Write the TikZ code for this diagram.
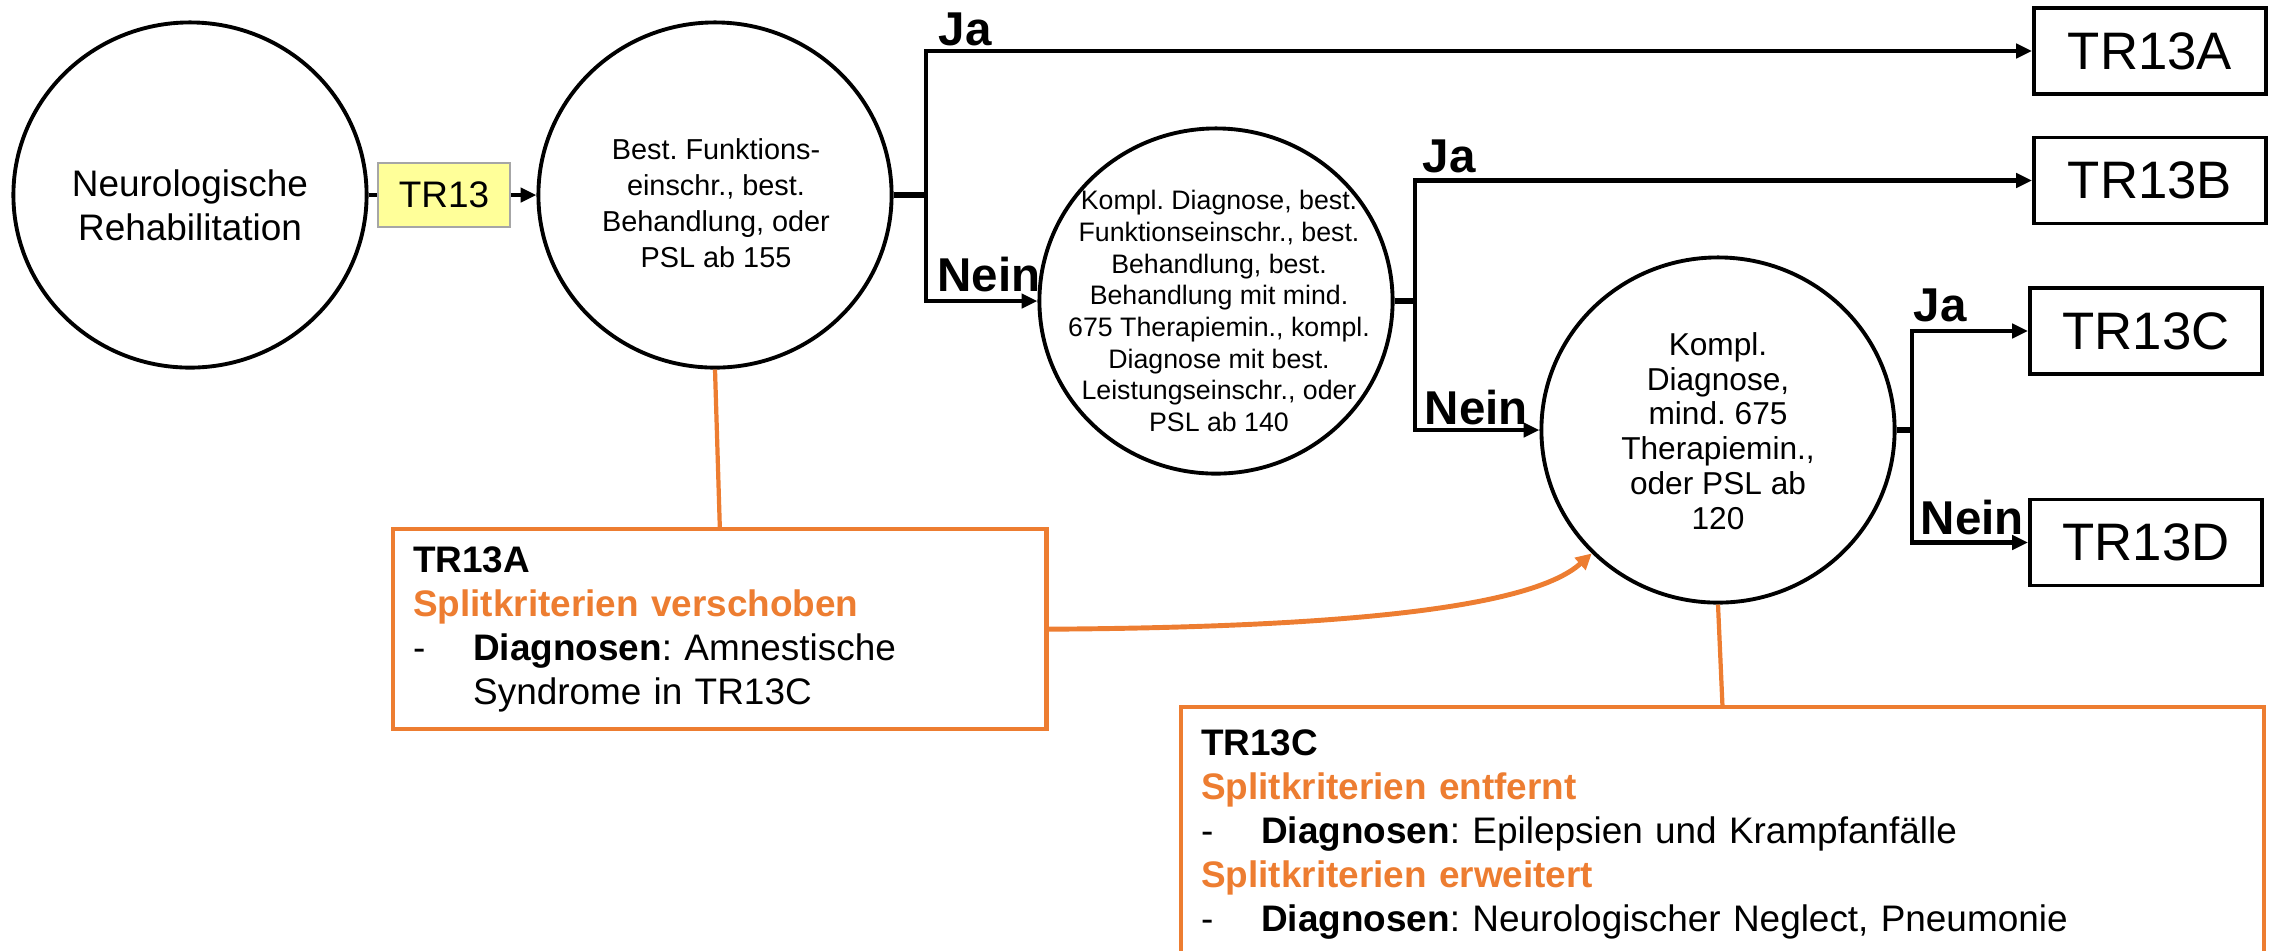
\documentclass[tikz,border=0pt]{standalone}
\usepackage{fontspec}
\setmainfont{Liberation Sans}
\usepackage{tikz}
\usetikzlibrary{shapes.geometric, arrows.meta, positioning}

\definecolor{splitorange}{HTML}{ED7D31}
\definecolor{drgyellow}{HTML}{FFFF99}
\definecolor{drggray}{HTML}{A6A6A6}
\frenchspacing

\begin{document}
\begin{tikzpicture}[
  x=0.01cm, y=-0.01cm,
  every node/.style={font=\fontsize{10.5}{12.5}\selectfont},
  decide/.style={
    ellipse, draw=black, line width=1.1pt,
    minimum width=3.53cm, minimum height=3.45cm, inner sep=0pt},
  qtext/.style={align=center, inner sep=0pt},
  endbox/.style={
    rectangle, draw=black, line width=1.1pt,
    minimum width=2.32cm, minimum height=0.86cm,
    font=\fontsize{15}{18}\selectfont},
  drgbox/.style={
    rectangle, draw=drggray, fill=drgyellow, line width=0.6pt,
    minimum width=1.32cm, minimum height=0.64cm, inner sep=0pt},
  notebox/.style={
    rectangle, draw=splitorange, line width=1.2pt,
    anchor=north west, align=left, inner xsep=0.2cm, inner ysep=0pt},
  answer/.style={
    font=\fontsize{13.5}{16}\selectfont\bfseries,
    anchor=base west, inner sep=0pt},
  arr/.style={-{Triangle[length=4.5pt,width=4pt]}, line width=1.2pt},
  link/.style={line width=1.2pt},
  stub/.style={line width=1.8pt},
  noteline/.style={draw=splitorange, line width=1.2pt},
  notearr/.style={-{Triangle[length=4.5pt,width=4.5pt]}, draw=splitorange, line width=1.4pt},
]
\useasboundingbox (0,0) rectangle (2270,950);

% decision ellipses
\node[decide] (q1) at (190,195) {};
\node[qtext] (q1t) at (190,205) {Neurologische\\Rehabilitation};

\node[decide] (q2) at (715,195) {};
\node[qtext, font=\fontsize{8.2}{10.2}\selectfont] (q2t) at (716,203)
  {Best. Funktions-\\einschr., best.\\Behandlung, oder\\PSL ab 155};

\node[decide] (q3) at (1216,301) {};
\node[qtext, font=\fontsize{7.6}{9}\selectfont] (q3t) at (1219,311)
  {Kompl. Diagnose, best.\\Funktionseinschr., best.\\Behandlung, best.\\Behandlung mit mind.\\675 Therapiemin., kompl.\\Diagnose mit best.\\Leistungseinschr., oder\\PSL ab 140};

\node[decide] (q4) at (1718,430) {};
\node[qtext, font=\fontsize{9}{9.9}\selectfont] (q4t) at (1718,431)
  {Kompl.\\Diagnose,\\mind. 675\\Therapiemin.,\\oder PSL ab\\120};

\node[drgbox] (drg) at (444,195) {TR13};

% result boxes
\node[endbox] (tr13a) at (2150,51) {TR13A};
\node[endbox] (tr13b) at (2150,180.5) {TR13B};
\node[endbox] (tr13c) at (2146,331) {TR13C};
\node[endbox] (tr13d) at (2146,542.5) {TR13D};

\coordinate (b1) at (926,195);
\coordinate (b2) at (1415,301);
\coordinate (b3) at (1912,430);

\draw[link] (q1) -- (drg);
\draw[arr] (drg) -- (q2);

\draw[stub] (q2.east) -- (b1);
\draw[arr] (b1) |- (tr13a);
\draw[arr] (b1) |- (q3);
\node[answer] (ja1) at (938,45) {Ja};
\node[answer] (nein1) at (937,291) {Nein};

\draw[stub] (q3.east) -- (b2);
\draw[arr] (b2) |- (tr13b);
\draw[arr] (b2) |- (q4);
\node[answer] (ja2) at (1422,172) {Ja};
\node[answer] (nein2) at (1424,424) {Nein};

\draw[stub] (q4.east) -- (b3);
\draw[arr] (b3) |- (tr13c);
\draw[arr] (b3) |- (tr13d);
\node[answer] (ja3) at (1913,321) {Ja};
\node[answer] (nein3) at (1920,534) {Nein};

% change notes
\node[notebox, text width=6.13cm, minimum height=2cm] (notea) at (391,527)
  {\textbf{TR13A}\\
   {\color{splitorange}\textbf{Splitkriterien verschoben}}\\
   \makebox[0.6cm][l]{-}\textbf{Diagnosen}: Amnestische\\
   \hspace*{0.6cm}Syndrome in TR13C};

\node[notebox, text width=10.42cm, minimum height=2.54cm] (notec) at (1179,705)
  {\textbf{TR13C}\\
   {\color{splitorange}\textbf{Splitkriterien entfernt}}\\
   \makebox[0.6cm][l]{-}\textbf{Diagnosen}: Epilepsien und Krampfanfälle\\
   {\color{splitorange}\textbf{Splitkriterien erweitert}}\\
   \makebox[0.6cm][l]{-}\textbf{Diagnosen}: Neurologischer Neglect, Pneumonie};

\draw[noteline] (q2.south) -- (notea.north);
\draw[noteline] (q4.south) -- (notec.north);
\draw[notearr] (notea.east) .. controls (1400,627) and (1540,600) .. (q4.south west);

\end{tikzpicture}
\end{document}
